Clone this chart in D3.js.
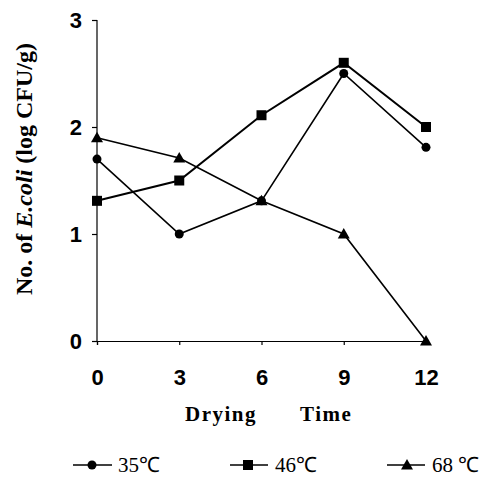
<!DOCTYPE html>
<html><head><meta charset="utf-8">
<script src="https://cdn.jsdelivr.net/npm/d3@7/dist/d3.min.js"></script>
<style>body{margin:0;background:#fff}svg{display:block}</style>
</head><body>
<script>
const times = [0, 3, 6, 9, 12];
const yTicks = [0, 1, 2, 3];
const s35 = [1.70, 1.00, 1.31, 2.50, 1.81];
const s46 = [1.31, 1.50, 2.11, 2.60, 2.00];
const s68 = [1.90, 1.71, 1.31, 1.00, 0.00];
const seriesNames = ["35℃", "46℃", "68 ℃"];

const W = 485, H = 478;
const svg = d3.select("body").append("svg").attr("width", W).attr("height", H);
const x = d3.scaleLinear().domain([0, 12]).range([97, 426]);
const y = d3.scaleLinear().domain([0, 3]).range([341, 20]);

const ax = svg.append("g").attr("transform", "translate(0,341)")
  .call(d3.axisBottom(x).tickValues(times).tickFormat(d3.format("d")).tickSize(4).tickPadding(24));
const ay = svg.append("g").attr("transform", "translate(97,0)")
  .call(d3.axisLeft(y).tickValues(yTicks).tickFormat(d3.format("d")).tickSize(5).tickPadding(10));
[ax, ay].forEach(g => {
  g.select(".domain").attr("stroke", "#000").attr("stroke-width", 1.2);
  g.selectAll(".tick line").attr("stroke", "#000").attr("stroke-width", 1.2);
  g.selectAll("text").attr("font-family", "Liberation Sans, Arial, sans-serif")
    .attr("font-weight", "bold").attr("font-size", 22).attr("fill", "#000");
});
ay.select(".domain").attr("d", "M0,341V20");
ay.selectAll(".tick text").attr("dy", "0.36em");

const series = [
  {vals: s35, shape: "circle", w: 1.6},
  {vals: s46, shape: "square", w: 2.0},
  {vals: s68, shape: "triangle", w: 1.6}
];
const line = d3.line().x((d, i) => x(times[i])).y(d => y(d));
function marker(g, shape, cx, cy) {
  if (shape === "circle") g.append("circle").attr("cx", cx).attr("cy", cy).attr("r", 4.5).attr("fill", "#000");
  else if (shape === "square") g.append("rect").attr("x", cx - 5).attr("y", cy - 5).attr("width", 10).attr("height", 10).attr("fill", "#000");
  else g.append("path").attr("d", `M${cx},${cy - 6}L${cx + 6},${cy + 4.5}L${cx - 6},${cy + 4.5}Z`).attr("fill", "#000");
}
series.forEach(s => {
  svg.append("path").datum(s.vals).attr("d", line).attr("fill", "none")
    .attr("stroke", "#000").attr("stroke-width", s.w);
  const g = svg.append("g");
  s.vals.forEach((v, i) => marker(g, s.shape, x(times[i]), y(v)));
});

// axis titles
const serif = "Liberation Serif, 'Times New Roman', serif";
svg.append("text").attr("x", 185).attr("y", 421).attr("font-family", serif)
  .attr("font-weight", "bold").attr("font-size", 21).attr("letter-spacing", 1.5).text("Drying");
svg.append("text").attr("x", 300).attr("y", 421).attr("font-family", serif)
  .attr("font-weight", "bold").attr("font-size", 21).attr("letter-spacing", 1.5).text("Time");

const yt = svg.append("text").attr("transform", "translate(32,169) rotate(-90)")
  .attr("text-anchor", "middle").attr("font-family", serif)
  .attr("font-weight", "bold").attr("font-size", 24);
yt.append("tspan").text("No. of ");
yt.append("tspan").attr("font-style", "italic").text("E.coli");
yt.append("tspan").text(" (log CFU/g)");

// legend
const legX = [[73, 112, 92, 118], [230, 268, 248, 275], [387, 425, 407, 432]];
const legY = 465;
series.forEach((s, i) => {
  const [x1, x2, mx, tx] = legX[i];
  svg.append("line").attr("x1", x1).attr("x2", x2).attr("y1", legY).attr("y2", legY)
    .attr("stroke", "#000").attr("stroke-width", 1.6);
  marker(svg, s.shape, mx, legY);
  svg.append("text").attr("x", tx).attr("y", legY + 7).attr("font-family", serif)
    .attr("font-size", 21).text(seriesNames[i]);
});
</script>
</body></html>
